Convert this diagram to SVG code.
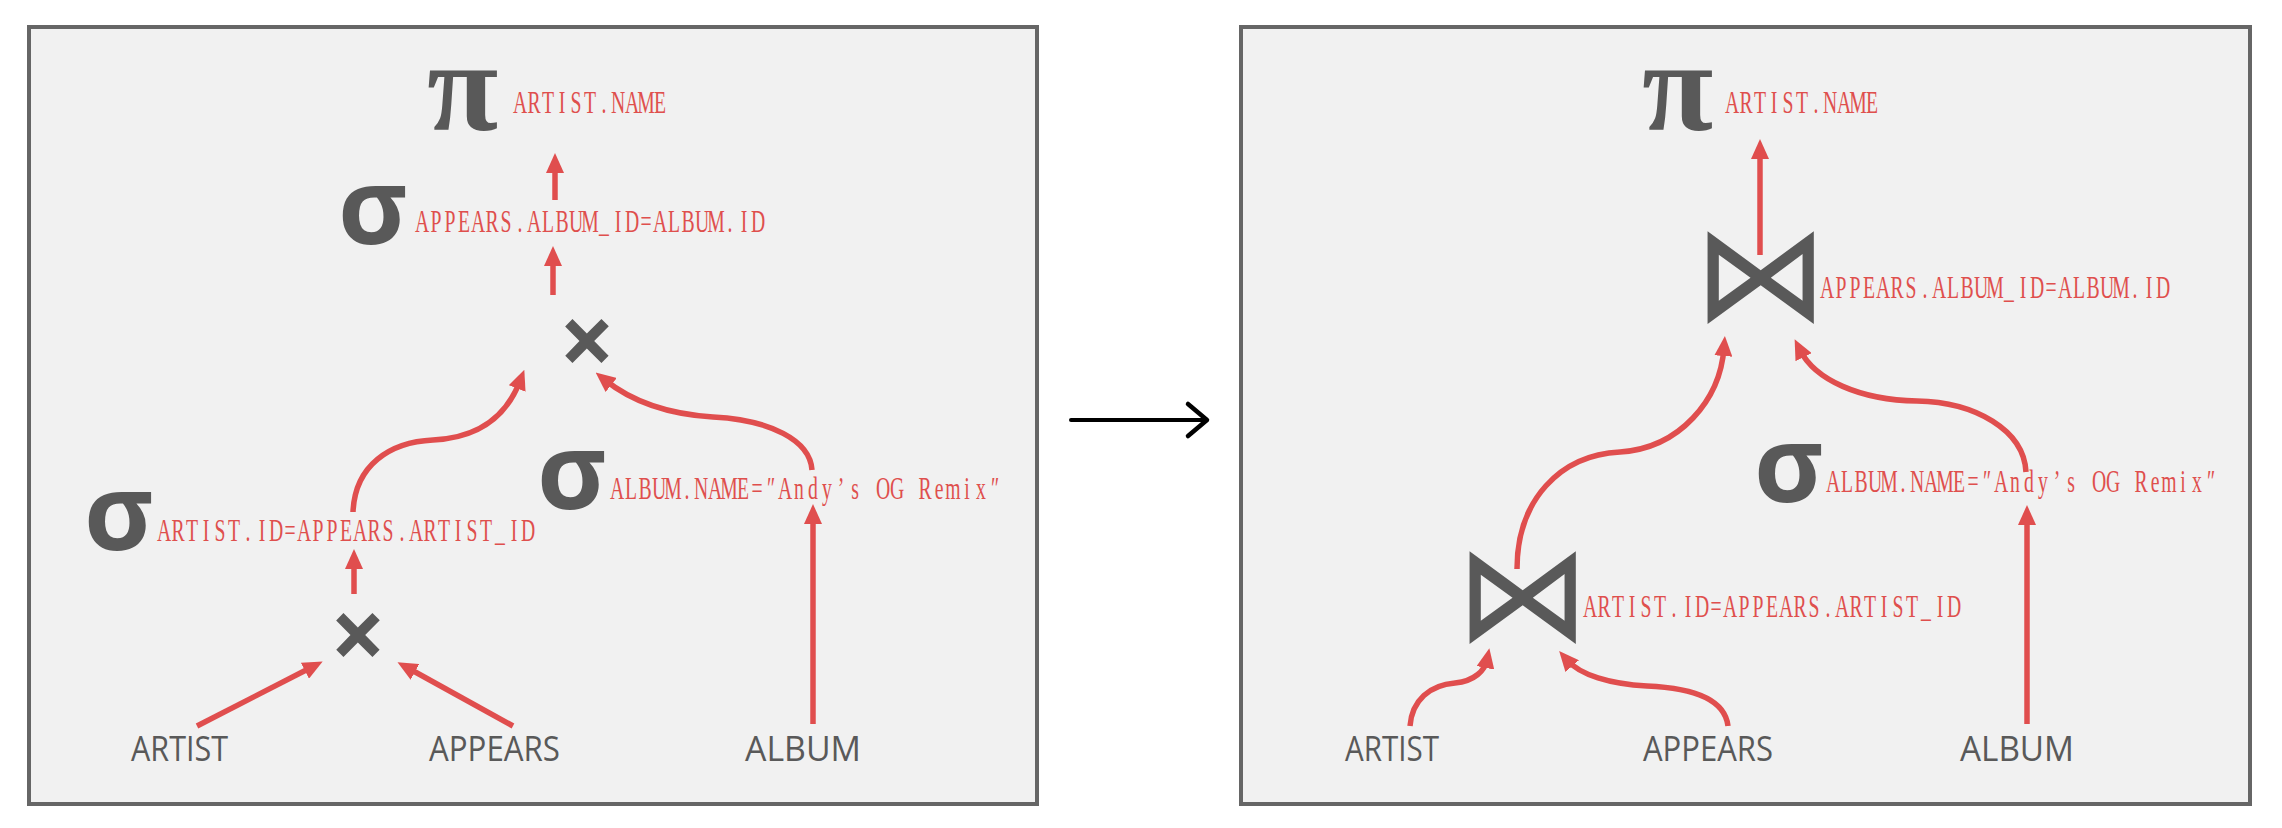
<svg xmlns="http://www.w3.org/2000/svg" width="2282" height="828" viewBox="0 0 2282 828">
<defs>
<style>
.panel{fill:#f1f1f1;stroke:#666666;stroke-width:4}
.pi{font-family:"Liberation Serif","DejaVu Serif",serif;font-weight:bold;font-size:130px;fill:#595959}
.sigma{font-family:"Open Sans","DejaVu Sans",sans-serif;font-weight:bold;font-size:106px;fill:#595959}
.op{font-family:"Open Sans","DejaVu Sans",sans-serif;font-weight:bold;font-size:98px;fill:#595959}
.join{font-family:"DejaVu Sans",sans-serif;font-size:135px;fill:#595959}
.cond{font-family:"Liberation Serif","DejaVu Serif",serif;font-size:31.5px;fill:#df4f4d;text-anchor:middle}
.rel{font-family:"Open Sans","Liberation Sans",sans-serif;font-size:35px;fill:#595959}
.edge{fill:none;stroke:#e04e4e;stroke-width:5.5}
</style>
<marker id="ah" markerUnits="userSpaceOnUse" markerWidth="20" markerHeight="18" refX="8" refY="9" orient="auto" viewBox="0 0 20 18">
<path d="M0,0 L20,9 L0,18 z" fill="#e04e4e"/>
</marker>
</defs>
<rect width="2282" height="828" fill="#ffffff"/>
<g id="left-panel"><rect class="panel" x="29" y="27" width="1008" height="777"/></g>
<g id="right-panel"><rect class="panel" x="1241" y="27" width="1009" height="777"/></g>

<g id="transform-arrow">
<line x1="1071" y1="420" x2="1206" y2="420" stroke="#000" stroke-width="4" stroke-linecap="round"/>
<polyline points="1188,404 1207,420 1188,436" fill="none" stroke="#000" stroke-width="4.5" stroke-linecap="round" stroke-linejoin="round"/>
</g>

<g id="connectors">
<path class="edge" marker-end="url(#ah)" d="M555,200 L555,165"/>
<path class="edge" marker-end="url(#ah)" d="M553,295 L553,258"/>
<path class="edge" marker-end="url(#ah)" d="M353,512 C355,465 390,442 433,440 C475,438 505,420 520,381"/>
<path class="edge" marker-end="url(#ah)" d="M812,470 C810,440 770,420 713,417 C665,414 630,400 605,380"/>
<path class="edge" marker-end="url(#ah)" d="M354,594 L354,561"/>
<path class="edge" marker-end="url(#ah)" d="M197,726 L312,667"/>
<path class="edge" marker-end="url(#ah)" d="M513,726 L408,668"/>
<path class="edge" marker-end="url(#ah)" d="M813,724 L813,516"/>
<path class="edge" marker-end="url(#ah)" d="M1760,255 L1760,151"/>
<path class="edge" marker-end="url(#ah)" d="M1517,569 C1517,500 1560,455 1620,452 C1680,448 1720,400 1724,348"/>
<path class="edge" marker-end="url(#ah)" d="M2026,472 C2024,430 1975,402 1917,401 C1860,400 1815,380 1800,350"/>
<path class="edge" marker-end="url(#ah)" d="M1410,726 C1412,700 1430,685 1455,683 C1475,681 1485,670 1487,660"/>
<path class="edge" marker-end="url(#ah)" d="M1728,726 C1725,700 1695,688 1647,686 C1610,684 1580,675 1567,660"/>
<path class="edge" marker-end="url(#ah)" d="M2027,724 L2027,517"/>
</g>

<g id="l-project"><text class="pi" x="427" y="130">π</text>
<g transform="translate(513,113) scale(0.625,1)"><text class="cond" x="11.2 33.6 56 78.4 100.8 123.2 145.6 168 190.4 212.8 235.2" y="0">ARTIST.NAME</text></g></g>
<g id="l-select-album-id"><text class="sigma" x="338" y="244">σ</text>
<g transform="translate(415,232) scale(0.625,1)"><text class="cond" x="11.2 33.6 56 78.4 100.8 123.2 145.6 168 190.4 212.8 235.2 257.6 280 302.4 324.8 347.2 369.6 392 414.4 436.8 459.2 481.6 504 526.4 548.8" y="0">APPEARS.ALBUM_ID=ALBUM.ID</text></g></g>
<g id="l-cross-top"><text class="op" x="587" y="376" text-anchor="middle">×</text></g>
<g id="l-select-artist-id"><text class="sigma" x="84" y="550">σ</text>
<g transform="translate(157,541) scale(0.625,1)"><text class="cond" x="11.2 33.6 56 78.4 100.8 123.2 145.6 168 190.4 212.8 235.2 257.6 280 302.4 324.8 347.2 369.6 392 414.4 436.8 459.2 481.6 504 526.4 548.8 571.2 593.6" y="0">ARTIST.ID=APPEARS.ARTIST_ID</text></g></g>
<g id="l-cross-bottom"><text class="op" x="358" y="670" text-anchor="middle">×</text></g>
<g id="l-select-album-name"><text class="sigma" x="537" y="509">σ</text>
<g transform="translate(610,499) scale(0.625,1)"><text class="cond" x="11.2 33.6 56 78.4 100.8 123.2 145.6 168 190.4 212.8 235.2 257.6 280 302.4 324.8 347.2 369.6 392 414.4 436.8 459.2 481.6 504 526.4 548.8 571.2 593.6 616" y="0">ALBUM.NAME=″Andy’s OG Remix″</text></g></g>
<g id="l-artist"><text class="rel" x="131" y="761" textLength="97" lengthAdjust="spacingAndGlyphs">ARTIST</text></g>
<g id="l-appears"><text class="rel" x="429" y="761" textLength="131" lengthAdjust="spacingAndGlyphs">APPEARS</text></g>
<g id="l-album"><text class="rel" x="745" y="761" textLength="116" lengthAdjust="spacingAndGlyphs">ALBUM</text></g>

<g id="r-project"><text class="pi" x="1642" y="130">π</text>
<g transform="translate(1725,113) scale(0.625,1)"><text class="cond" x="11.2 33.6 56 78.4 100.8 123.2 145.6 168 190.4 212.8 235.2" y="0">ARTIST.NAME</text></g></g>
<g id="r-join-album"><text class="join" x="1761" y="320" text-anchor="middle">⋈</text>
<g transform="translate(1820,298) scale(0.625,1)"><text class="cond" x="11.2 33.6 56 78.4 100.8 123.2 145.6 168 190.4 212.8 235.2 257.6 280 302.4 324.8 347.2 369.6 392 414.4 436.8 459.2 481.6 504 526.4 548.8" y="0">APPEARS.ALBUM_ID=ALBUM.ID</text></g></g>
<g id="r-select-album-name"><text class="sigma" x="1754" y="502">σ</text>
<g transform="translate(1826,492) scale(0.625,1)"><text class="cond" x="11.2 33.6 56 78.4 100.8 123.2 145.6 168 190.4 212.8 235.2 257.6 280 302.4 324.8 347.2 369.6 392 414.4 436.8 459.2 481.6 504 526.4 548.8 571.2 593.6 616" y="0">ALBUM.NAME=″Andy’s OG Remix″</text></g></g>
<g id="r-join-artist"><text class="join" x="1523" y="640" text-anchor="middle">⋈</text>
<g transform="translate(1583,617) scale(0.625,1)"><text class="cond" x="11.2 33.6 56 78.4 100.8 123.2 145.6 168 190.4 212.8 235.2 257.6 280 302.4 324.8 347.2 369.6 392 414.4 436.8 459.2 481.6 504 526.4 548.8 571.2 593.6" y="0">ARTIST.ID=APPEARS.ARTIST_ID</text></g></g>
<g id="r-artist"><text class="rel" x="1345" y="761" textLength="94" lengthAdjust="spacingAndGlyphs">ARTIST</text></g>
<g id="r-appears"><text class="rel" x="1643" y="761" textLength="130" lengthAdjust="spacingAndGlyphs">APPEARS</text></g>
<g id="r-album"><text class="rel" x="1960" y="761" textLength="114" lengthAdjust="spacingAndGlyphs">ALBUM</text></g>
</svg>
